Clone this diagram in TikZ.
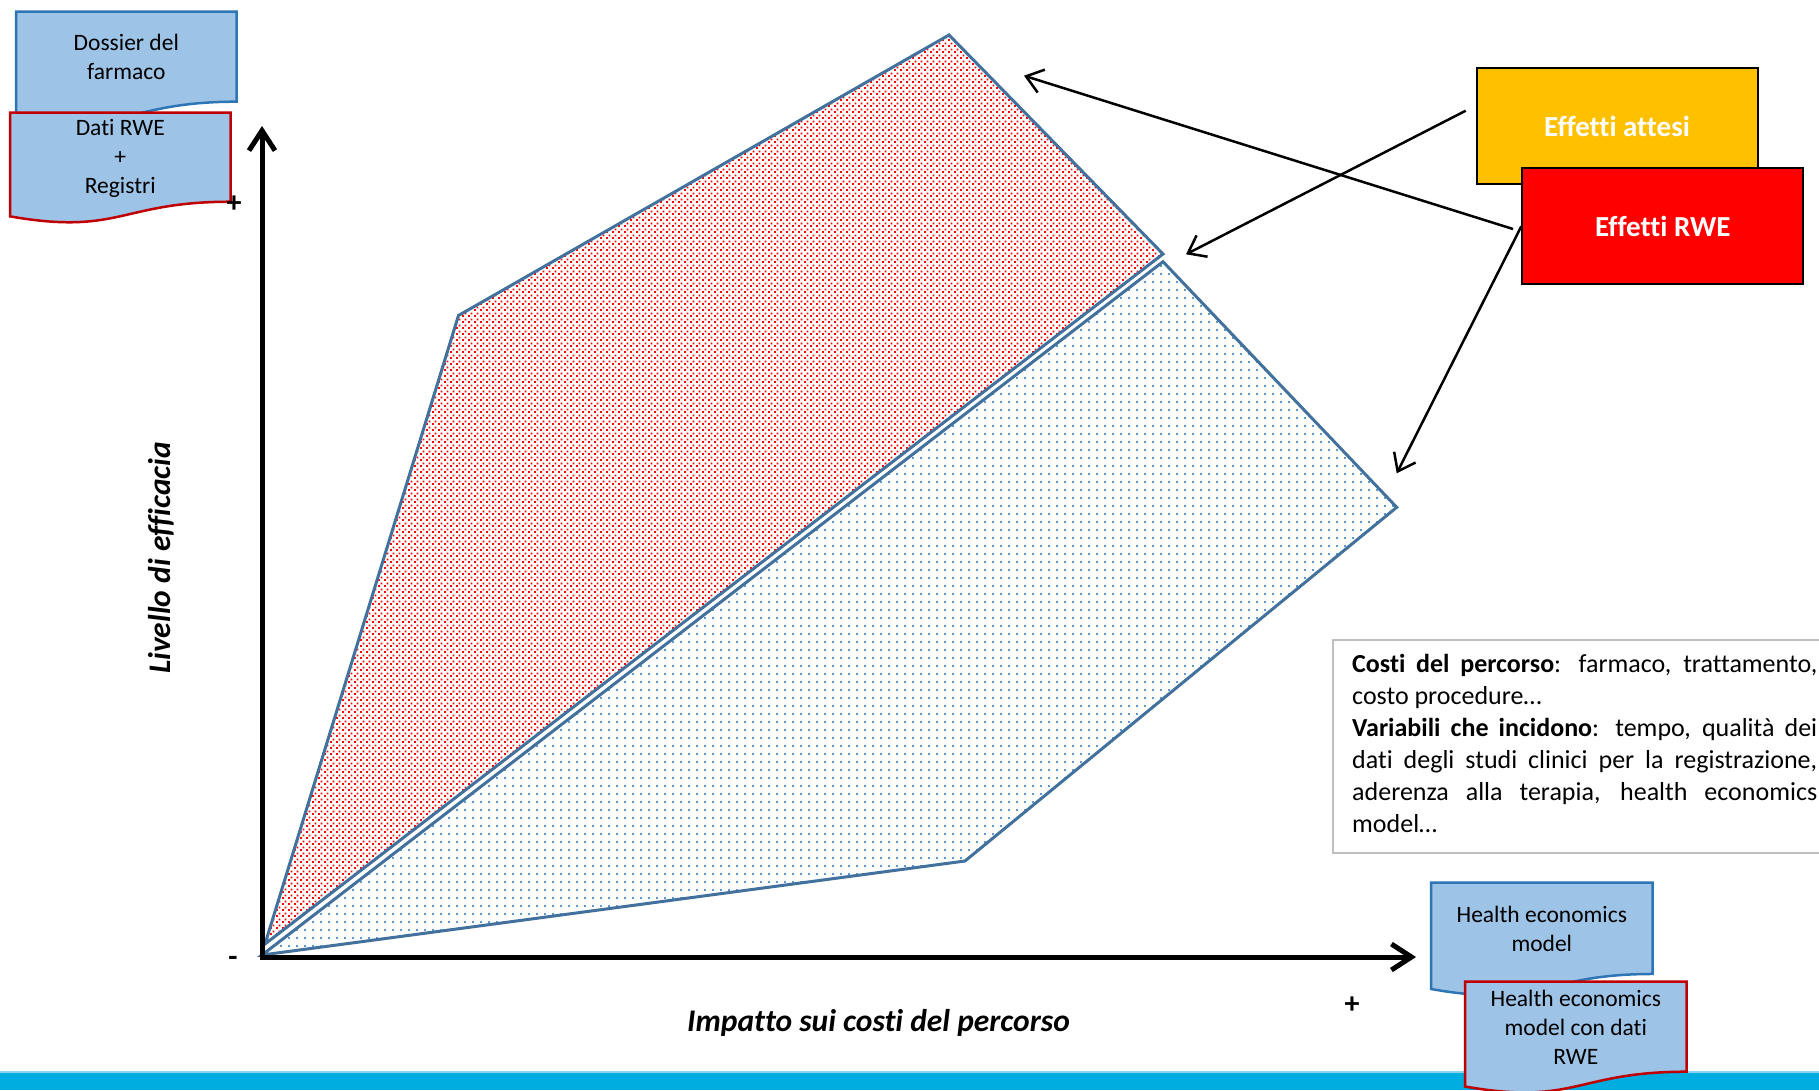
\documentclass[tikz,border=0pt]{standalone}
\usepackage{fontspec}
\setmainfont{Carlito}[Ligatures=NoCommon]
\usetikzlibrary{arrows.meta,patterns.meta}

\definecolor{boxblue}{HTML}{9DC3E6}
\definecolor{edgeblue}{HTML}{2E75B6}
\definecolor{edgered}{HTML}{C00000}
\definecolor{polyedge}{HTML}{41719C}
\definecolor{dotblue}{HTML}{5B9BD5}
\definecolor{dotred}{HTML}{FF0000}
\definecolor{barcyan}{HTML}{00ADE1}
\definecolor{barlight}{HTML}{8FD3EE}
\definecolor{gold}{HTML}{FFC000}
\definecolor{framegray}{HTML}{BFBFBF}

\tikzdeclarepattern{
  name=reddots, type=colored,
  bounding box={(0pt,0pt) and (6pt,6pt)},
  tile size={(6pt,6pt)},
  code={\fill[dotred] (0pt,0pt) rectangle (2.2pt,2.2pt);
        \fill[dotred] (3pt,3pt) rectangle (5.2pt,5.2pt);}
}
\tikzdeclarepattern{
  name=bluedots, type=colored,
  bounding box={(0pt,0pt) and (8pt,8pt)},
  tile size={(8pt,8pt)},
  code={\fill[dotblue] (0pt,0pt) rectangle (2.2pt,2.2pt);}
}

\tikzset{
  docstyle/.style={fill=boxblue, line width=2.5pt},
  doctext/.style={font=\fontsize{23.5}{29}\selectfont, align=center, inner sep=0pt},
  effbox/.style={draw=black, line width=2pt, text=white, inner sep=0pt,
    font=\fontsize{29}{34}\selectfont\bfseries, minimum width=281pt, minimum height=116pt},
  polyline/.style={draw=polyedge, line width=3pt, line join=miter},
  axisline/.style={line width=5pt, line cap=rect, -{Straight Barb[length=20pt,width=26pt,line width=5pt]}},
  pointer/.style={line width=2.5pt, -{Straight Barb[length=16pt,width=24pt,line width=2.5pt]}},
  signtext/.style={font=\fontsize{30}{34}\selectfont\bfseries, inner sep=0pt},
  axistext/.style={font=\fontsize{31.5}{38}\selectfont\bfseries\itshape, inner sep=0pt}
}

\newcommand\mydocshape[5]{%
  \filldraw[docstyle,draw=#5] (#1,#2) -- (#3,#2) -- (#3,{#2+0.802*#4})
    .. controls ({(#1+#3)/2},{#2+0.802*#4}) and ({(#1+#3)/2},{#2+1.107*#4}) ..
    (#1,{#2+0.934*#4}) -- cycle;}

\begin{document}
\begin{tikzpicture}[x=1pt,y=-1pt]
\useasboundingbox (0,0) rectangle (1819,1090);
\fill[white] (0,0) rectangle (1819,1090);

% bottom bar
\fill[barcyan] (0,1072) rectangle (1819,1090);
\draw[barlight, line width=1.5pt] (0,1072) -- (1819,1072);

% polygons
\coordinate (bo) at (262,955);
\coordinate (bt) at (1163,261.7);
\coordinate (br) at (1396.7,507.3);
\coordinate (bb) at (965,861);
\coordinate (ro) at (265,944);
\coordinate (rl) at (458.5,315.5);
\coordinate (rt) at (949,35);
\coordinate (rr) at (1163,254);
\draw[polyline, pattern=bluedots] (bo) -- (bt) -- (br) -- (bb) -- cycle;
\draw[polyline, pattern=reddots] (ro) -- (rl) -- (rt) -- (rr) -- cycle;

% axes
\coordinate (orig) at (262,957);
\coordinate (ytip) at (262,126);
\coordinate (xtip) at (1416,957);
\draw[axisline] (orig) -- (ytip);
\draw[axisline] (orig) -- (xtip);

% documents top-left
\mydocshape{16}{11.7}{236.7}{112.2}{edgeblue}
\node[doctext] (dossier) at (126.3,57) {Dossier del\\farmaco};
\mydocshape{10}{112.7}{230.7}{111}{edgered}
\node[doctext] (dati) at (120.3,158) {Dati RWE\\+\\Registri};

% signs
\node[signtext] (plusy) at (234,204) {+};
\node[signtext] (minus) at (233,961) {-};
\node[signtext] (plusx) at (1352,1005) {+};

% axis labels
\node[axistext, rotate=90] (ylab) at (161,558) {Livello di efficacia};
\node[axistext] (xlab) at (878.5,1023) {Impatto sui costi del percorso};

% pointers
\coordinate (a1s) at (1513,229);
\coordinate (a1e) at (1024,75.7);
\coordinate (a2s) at (1465.7,110.7);
\coordinate (a2e) at (1186,254.3);
\coordinate (a3e) at (1396.7,473.3);

% effect boxes
\node[effbox, fill=gold] (attesi) at (1617,126.2) {Effetti attesi};
\node[effbox, fill=red] (rwe) at (1662.8,226.3) {Effetti RWE};

\draw[pointer] (a1s) -- (a1e);
\draw[pointer] (a2s) -- (a2e);
\draw[pointer] (rwe.west) -- (a3e);

% text frame
\node[draw=framegray, line width=2pt, anchor=north west, minimum width=500pt,
  minimum height=213pt, inner sep=0pt] (frame) at (1332,639) {};
\node[anchor=north west, inner sep=0pt, align=left,
  font=\fontsize{26}{32}\selectfont] (costi) at (1352,654)
  {\makebox[465pt][s]{\textbf{Costi del percorso}: farmaco, trattamento,}\\
   costo procedure…\\
   \makebox[465pt][s]{\textbf{Variabili che incidono}: tempo, qualità dei}\\
   \makebox[465pt][s]{dati degli studi clinici per la registrazione,}\\
   \makebox[465pt][s]{aderenza alla terapia, health economics}\\
   model…};

% documents bottom-right
\mydocshape{1431}{882.7}{1652.7}{113.8}{edgeblue}
\node[doctext] (hem) at (1541.8,929) {Health economics\\model};
\mydocshape{1465}{981.7}{1686.7}{112.2}{edgered}
\node[doctext] (hemrwe) at (1575.8,1027) {Health economics\\model con dati\\RWE};
\end{tikzpicture}
\end{document}
